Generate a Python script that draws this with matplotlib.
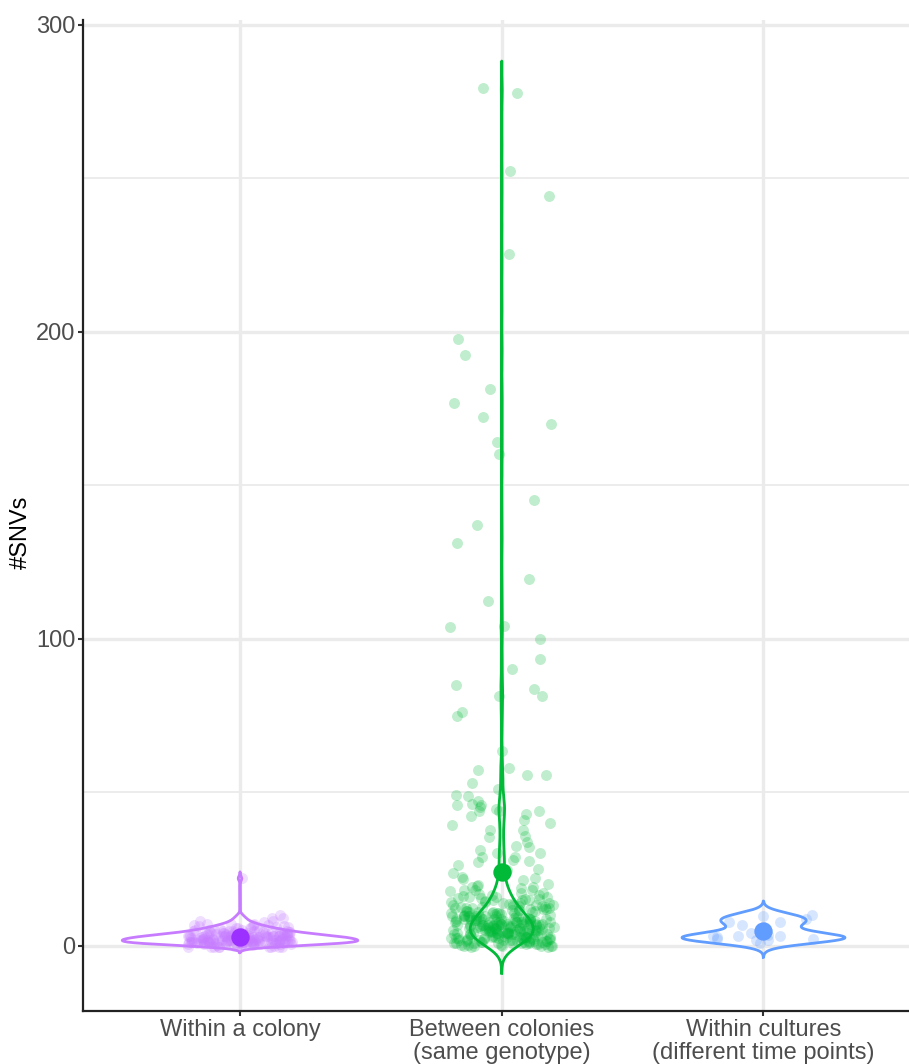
import numpy as np
import matplotlib
matplotlib.use("Agg")
import matplotlib.pyplot as plt

plt.rcParams['font.family'] = ['Liberation Sans', 'DejaVu Sans']

# ---------------- data ----------------
categories = ["Within a colony",
              "Between colonies\n(same genotype)",
              "Within cultures\n(different time points)"]

# Within a colony: SNV counts and number of pairs with that count
colony_values = [0, 1, 2, 3, 4, 5, 6, 7, 8, 9, 10, 22]
colony_counts = [15, 38, 38, 33, 22, 15, 10, 6, 3, 2, 1, 1]

# Between colonies: low values as counts, higher values read individually
between_low_values = list(range(0, 21))
between_low_counts = [11, 16, 18, 19, 20, 20, 20, 19, 18, 16, 14, 12, 10, 9, 7, 6, 6, 5, 4, 3, 3]
between_mid = [21.4, 21.8, 22.1, 22.3, 23.1, 23.8, 24.6, 25.1, 26.2, 27.3, 27.5, 28.0, 28.8, 29.1,
               30.2, 30.4, 31.3, 32.2, 32.6, 34.0, 35.4, 35.9, 37.8, 37.8, 39.5, 40.0, 41.1,
               42.2, 42.9, 44.0, 44.0, 44.1, 44.6, 45.2, 45.9, 46.0, 46.2, 47.3, 48.9, 49.2,
               51.1, 53.0, 55.8, 55.8, 57.4, 58.0]
between_high = [63.5, 75.0, 76.3, 81.5, 81.5, 83.8, 85.1, 90.3, 93.3, 100.1, 104.0, 104.3,
                112.5, 119.4, 131.2, 137.0, 145.4, 160.1, 164.0, 169.9, 172.4, 177.0, 181.3,
                192.4, 197.6, 225.3, 244.2, 252.4, 277.9, 279.4]

# Within cultures (different time points): integer SNV counts
cultures = [1, 2, 2, 2, 2, 3, 3, 3, 3, 4, 4, 6, 7, 8, 8, 9, 10, 10]

y_ticks = [0, 100, 200, 300]
y_minor = [50, 150, 250]

line_colors = ["#C77CFF", "#00BA38", "#619CFF"]
mean_colors = ["#9B30FF", "#00BA38", "#619CFF"]

# ---------------- assemble groups ----------------
colony = np.repeat(colony_values, colony_counts).astype(float)
between_low = np.repeat(between_low_values, between_low_counts).astype(float)
between = np.concatenate([between_low, between_mid, between_high])
cult = np.asarray(cultures, float)

groups = [colony, between, cult]
# integer-valued part of each group gets the usual small vertical jitter
int_parts = [len(colony), len(between_low), len(cult)]


def nrd0(x):
    sd = np.std(x, ddof=1)
    q75, q25 = np.percentile(x, [75, 25])
    lo = min(sd, (q75 - q25) / 1.34)
    return 0.9 * lo * len(x) ** -0.2


def kde(x, bw, n=512):
    grid = np.linspace(x.min() - 3 * bw, x.max() + 3 * bw, n)
    d = np.exp(-0.5 * ((grid[:, None] - x[None, :]) / bw) ** 2).sum(1)
    d /= (len(x) * bw * np.sqrt(2 * np.pi))
    return grid, d


dens = [kde(g, nrd0(g)) for g in groups]
dmax = max(d.max() for _, d in dens)
half = 0.45 / dmax

# ---------------- figure ----------------
W, H = 909, 1064
fig = plt.figure(figsize=(W / 100, H / 100), dpi=100)
ax = fig.add_axes([83 / W, 1 - 1011 / H, 1 - 83 / W, (1011 - 20) / H])

rng = np.random.default_rng(7)
for i, g in enumerate(groups):
    pos = i + 1
    xj = pos + rng.uniform(-0.2, 0.2, len(g))
    yj = g.copy()
    k = int_parts[i]
    yj[:k] = yj[:k] + rng.uniform(-0.4, 0.4, k)
    ax.scatter(xj, yj, s=62, color=line_colors[i], alpha=0.25, linewidths=0, zorder=2)

for i, (grid, d) in enumerate(dens):
    pos = i + 1
    xs = np.concatenate([pos - d * half, (pos + d * half)[::-1], [pos - d[0] * half]])
    ys = np.concatenate([grid, grid[::-1], [grid[0]]])
    ax.plot(xs, ys, color=line_colors[i], lw=2.0, zorder=3, solid_joinstyle='round')

for i, g in enumerate(groups):
    ax.scatter([i + 1], [g.mean()], s=175, color=mean_colors[i], linewidths=0, zorder=4)

ax.set_xlim(0.4, 3.556)
ax.set_ylim(-21.2, 301.6)
ax.set_xticks([1, 2, 3])
ax.set_xticklabels(categories, linespacing=1.05)
ax.set_yticks(y_ticks)
ax.set_yticks(y_minor, minor=True)

ax.set_axisbelow(True)
ax.grid(True, which='major', color='#EBEBEB', lw=2.4)
ax.grid(True, which='minor', axis='y', color='#EBEBEB', lw=1.3)

for s in ['top', 'right']:
    ax.spines[s].set_visible(False)
for s in ['left', 'bottom']:
    ax.spines[s].set_linewidth(1.6)
    ax.spines[s].set_color('#222222')

ax.tick_params(axis='both', which='major', length=3.8, width=1.5, color='#333333',
               labelsize=17, labelcolor='#4D4D4D')
ax.tick_params(axis='y', pad=1.5)
ax.tick_params(axis='x', pad=2.0)
ax.tick_params(which='minor', length=0)

fig.text(21 / W, 0.5, "#SNVs", rotation=90, ha='center', va='center', fontsize=17, color='black')

fig.savefig("out.png", dpi=100)
